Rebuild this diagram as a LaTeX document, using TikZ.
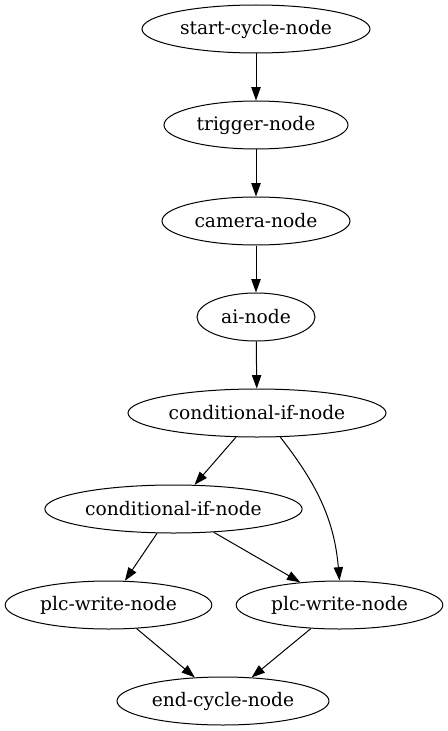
\documentclass[tikz,border=0pt]{standalone}
\usepackage{fontspec}
\setmainfont{DejaVu Serif}
\usepackage{tikz}
\usetikzlibrary{shapes,arrows.meta,positioning}

\begin{document}
\begin{tikzpicture}[
    x=0.75pt, y=-0.75pt,
    stepnode/.style={ellipse, draw=black, line width=0.75pt, inner sep=0pt,
        minimum height=36pt, font=\fontsize{14}{16}\selectfont},
    flow/.style={-{Triangle[length=10pt,width=7pt]}, line width=0.75pt}
]
    \useasboundingbox (0,0) rectangle (448,731);

    % main chain
    \node[stepnode, minimum width=171pt] (start) at (256,29) {start-cycle-node};
    \node[stepnode, minimum width=138pt] (trig) at (256,125) {trigger-node};
    \node[stepnode, minimum width=141pt] (cam) at (256,221) {camera-node};
    \node[stepnode, minimum width=88.5pt] (ai) at (256,317) {ai-node};
    \node[stepnode, minimum width=193.5pt] (if1) at (257,413) {conditional-if-node};

    % branches
    \node[stepnode, minimum width=193pt] (if2) at (173.5,509) {conditional-if-node};
    \node[stepnode, minimum width=155pt] (plcA) at (108.5,605) {plc-write-node};
    \node[stepnode, minimum width=155pt] (plcB) at (339.5,605) {plc-write-node};
    \node[stepnode, minimum width=159pt] (stop) at (223,701) {end-cycle-node};

    \draw[flow] (start) -- (trig);
    \draw[flow] (trig) -- (cam);
    \draw[flow] (cam) -- (ai);
    \draw[flow] (ai) -- (if1);
    \draw[flow] (if1) -- (if2);
    \draw[flow] (if1.-46) to[out=-52, in=95] (plcB.north);
    \draw[flow] (if2) -- (plcA);
    \draw[flow] (if2) -- (plcB);
    \draw[flow] (plcA) -- (stop);
    \draw[flow] (plcB) -- (stop);
\end{tikzpicture}
\end{document}
